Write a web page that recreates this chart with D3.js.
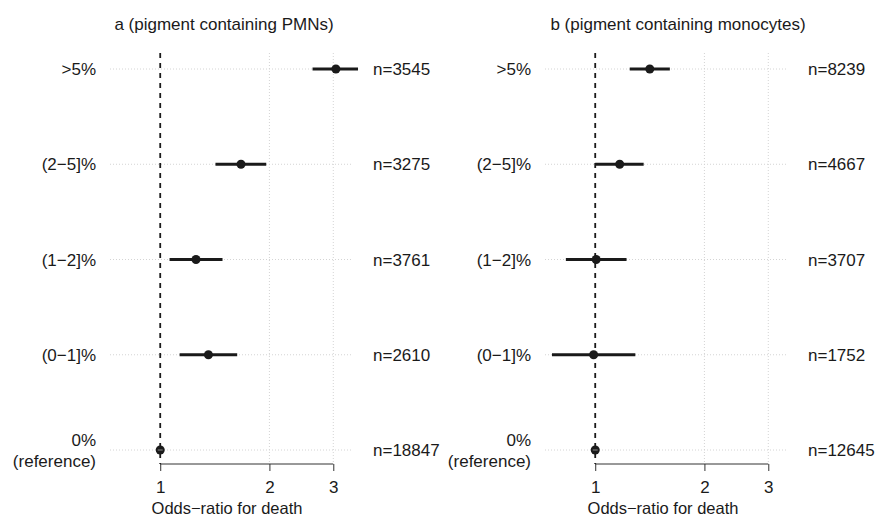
<!DOCTYPE html>
<html>
<head>
<meta charset="utf-8">
<script src="https://cdn.jsdelivr.net/npm/d3@7"></script>
<style>
  body { margin: 0; background: #fff; }
  text { font-family: "Liberation Sans", Arial, sans-serif; fill: #1a1a1a; }
</style>
</head>
<body>
<script>
//----------------------------------------------------------------------
// data
var categories  = [">5%", "(2\u22125]%", "(1\u22122]%", "(0\u22121]%", "0%|(reference)"];
var panelTitles = ["a (pigment containing PMNs)", "b (pigment containing monocytes)"];
var tickValues  = [1, 2, 3];

var pmnOR  = [3.05, 1.67, 1.255, 1.358, 1];
var pmnLo  = [2.63, 1.42, 1.061, 1.131, 1];
var pmnHi  = [3.51, 1.96, 1.485, 1.63, 1];
var pmnN   = [3545, 3275, 3761, 2610, 18847];

var monoOR = [1.414, 1.168, 1.006, 0.99, 1];
var monoLo = [1.245, 1.0, 0.83, 0.76, 1];
var monoHi = [1.606, 1.36, 1.22, 1.29, 1];
var monoN  = [8239, 4667, 3707, 1752, 12645];

//----------------------------------------------------------------------
var W = 876, H = 527;
var svg = d3.select("body").append("svg").attr("width", W).attr("height", H);

var y = d3.scalePoint().domain(categories).range([69, 450]).padding(0);
var gridTop = 53, axisY = 464;

var panels = [
	{ title: panelTitles[0], or: pmnOR,  lo: pmnLo,  hi: pmnHi,  n: pmnN,
	  x0: 110, titleX: 224, axTitleX: 227, labelX: 96,  nX: 373 },
	{ title: panelTitles[1], or: monoOR, lo: monoLo, hi: monoHi, n: monoN,
	  x0: 545, titleX: 678, axTitleX: 663, labelX: 531, nX: 808 }
];

panels.forEach(function(p){
	var x = d3.scaleLog().domain([0.727, 3.4]).range([p.x0, p.x0 + 243]);
	var g = svg.append("g");

	// dotted grid
	g.selectAll("line.hg").data(categories).enter().append("line")
		.attr("x1", x.range()[0]).attr("x2", x.range()[1])
		.attr("y1", function(d){ return y(d); }).attr("y2", function(d){ return y(d); })
		.attr("stroke", "#d4d4d4").attr("stroke-width", 1).attr("stroke-dasharray", "1,2");
	g.selectAll("line.vg").data(tickValues.slice(1)).enter().append("line")
		.attr("x1", function(d){ return x(d); }).attr("x2", function(d){ return x(d); })
		.attr("y1", gridTop).attr("y2", axisY)
		.attr("stroke", "#d4d4d4").attr("stroke-width", 1).attr("stroke-dasharray", "1,2");

	// reference line at OR = 1
	g.append("line")
		.attr("x1", x(1)).attr("x2", x(1)).attr("y1", gridTop).attr("y2", axisY)
		.attr("stroke", "#1a1a1a").attr("stroke-width", 1.8).attr("stroke-dasharray", "5,5");

	// axis
	var ax = g.append("g").attr("transform", "translate(0," + axisY + ")")
		.call(d3.axisBottom(x).tickValues(tickValues).tickFormat(d3.format("d")).tickSize(7).tickPadding(10));
	ax.select(".domain").attr("stroke", "#333").attr("d", "M" + x(1) + ",0H" + x(3));
	ax.selectAll(".tick line").attr("stroke", "#333");
	ax.selectAll(".tick text").style("font-size", "17px").style("font-family", "Liberation Sans, Arial, sans-serif").attr("fill", "#1a1a1a");

	// CIs and points
	g.selectAll("line.ci").data(categories).enter().append("line")
		.attr("x1", function(d,i){ return x(p.lo[i]); })
		.attr("x2", function(d,i){ return x(p.hi[i]); })
		.attr("y1", function(d){ return y(d); }).attr("y2", function(d){ return y(d); })
		.attr("stroke", "#1a1a1a").attr("stroke-width", 3);
	g.selectAll("circle").data(categories).enter().append("circle")
		.attr("cx", function(d,i){ return x(p.or[i]); })
		.attr("cy", function(d){ return y(d); })
		.attr("r", 4.5).attr("fill", "#1a1a1a");
	// reference point shows a faint line through it
	g.append("line")
		.attr("x1", x(p.or[4]) - 2.5).attr("x2", x(p.or[4]) + 2.5)
		.attr("y1", y(categories[4])).attr("y2", y(categories[4]))
		.attr("stroke", "#888").attr("stroke-width", 1);

	// row labels
	g.selectAll("text.lab").data(categories).enter().append("text")
		.attr("text-anchor", "end").style("font-size", "17px")
		.attr("x", p.labelX)
		.each(function(d){
			var parts = d.split("|"), t = d3.select(this);
			parts.forEach(function(s, k){
				t.append("tspan").attr("x", p.labelX)
					.attr("y", y(d) + 6 + (k - (parts.length - 1) / 2) * 21)
					.text(s);
			});
		});

	// n labels
	g.selectAll("text.n").data(categories).enter().append("text")
		.attr("x", p.nX).attr("y", function(d){ return y(d) + 6; })
		.style("font-size", "17px")
		.text(function(d,i){ return "n=" + p.n[i]; });

	// titles
	g.append("text").attr("x", p.titleX).attr("y", 30).attr("text-anchor", "middle")
		.style("font-size", "17px").text(p.title);
	g.append("text").attr("x", p.axTitleX).attr("y", 514).attr("text-anchor", "middle")
		.style("font-size", "16.5px").text("Odds\u2212ratio for death");
});
//----------------------------------------------------------------------
</script>
</body>
</html>
